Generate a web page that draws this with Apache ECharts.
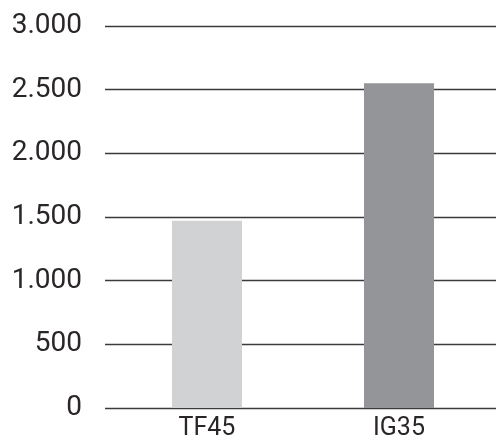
<!DOCTYPE html>
<html>
<head>
<meta charset="utf-8">
<script src="https://cdn.jsdelivr.net/npm/echarts@6/dist/echarts.min.js"></script>
<style>
  html, body { margin: 0; padding: 0; background: #fff; }
  #chart { width: 496px; height: 441px; }
</style>
</head>
<body>
<div id="chart"></div>
<script>
// Categories and values
var categories = ['TF45', 'IG35'];
var values = [1470, 2550];
var barColors = ['#d1d2d4', '#939598'];
var yMin = 0, yMax = 3000, yStep = 500;

function fmt(v) {
  return String(v).replace(/\B(?=(\d{3})+(?!\d))/g, '.');
}

var chart = echarts.init(document.getElementById('chart'), null, { renderer: 'canvas' });
chart.setOption({
  animation: false,
  grid: [
    // grid for the value axis labels and horizontal rules
    { left: 105, right: 0, top: 26, bottom: 33 },
    // grid for the bars
    { left: 111, right: 1, top: 26, bottom: 33 }
  ],
  xAxis: [
    {
      gridIndex: 0, type: 'category', data: categories,
      axisLine: { show: false }, axisTick: { show: false }, axisLabel: { show: false }
    },
    {
      gridIndex: 1, type: 'category', data: categories,
      axisLine: { show: false }, axisTick: { show: false },
      axisLabel: { color: '#2a2627', fontFamily: 'Roboto', fontSize: 25, margin: 8 }
    }
  ],
  yAxis: [
    {
      gridIndex: 0, type: 'value', min: yMin, max: yMax, interval: yStep,
      axisLine: { show: false }, axisTick: { show: false },
      axisLabel: { color: '#2a2627', fontFamily: 'Roboto', fontSize: 28, margin: 23, formatter: fmt },
      splitLine: { lineStyle: { color: '#3a3a3a', width: 1.3 } }
    },
    {
      gridIndex: 1, type: 'value', min: yMin, max: yMax, interval: yStep,
      axisLine: { show: false }, axisTick: { show: false }, axisLabel: { show: false },
      splitLine: { show: false }
    }
  ],
  series: [{
    type: 'bar', xAxisIndex: 1, yAxisIndex: 1,
    barWidth: 70,
    data: values.map(function (v, i) {
      return { value: v, itemStyle: { color: barColors[i] } };
    })
  }]
});
</script>
</body>
</html>
